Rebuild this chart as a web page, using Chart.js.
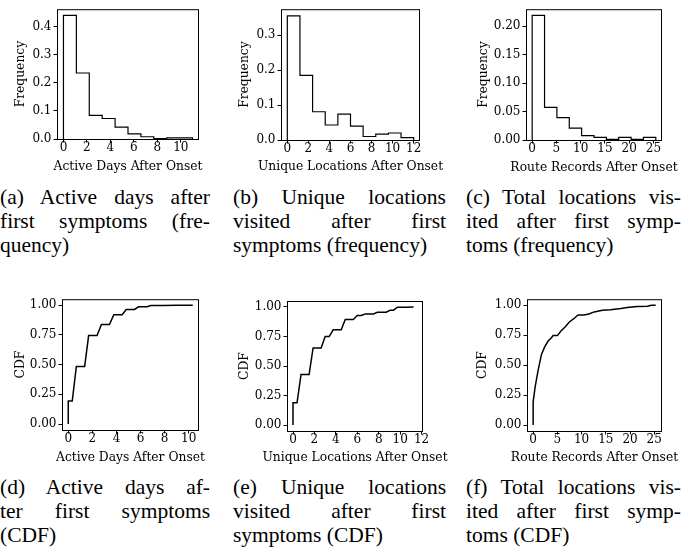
<!DOCTYPE html>
<html>
<head>
<meta charset="utf-8">
<script src="https://cdn.jsdelivr.net/npm/chart.js@4.4.0/dist/chart.umd.min.js"></script>
<style>
  body { margin: 0; width: 699px; height: 553px; background: #fff; position: relative; overflow: hidden; }
  canvas { position: absolute; }
  .cap { position: absolute; font-family: "Liberation Serif", serif; font-size: 21.5px; line-height: 24px; color: #000; }
  .cap div { text-align: justify; text-align-last: justify; }
  .cap div.last { text-align-last: left; }
</style>
</head>
<body>
<canvas id="a" width="233" height="180" style="left:0;top:0"></canvas>
<canvas id="b" width="233" height="180" style="left:233px;top:0"></canvas>
<canvas id="c" width="233" height="180" style="left:466px;top:0"></canvas>
<canvas id="d" width="233" height="180" style="left:0;top:290px"></canvas>
<canvas id="e" width="233" height="180" style="left:233px;top:290px"></canvas>
<canvas id="f" width="233" height="180" style="left:466px;top:290px"></canvas>

<div class="cap" style="left:0;top:185px;width:210px">
  <div>(a) Active days after</div><div>first symptoms (fre-</div><div class="last">quency)</div>
</div>
<div class="cap" style="left:233px;top:185px;width:213px">
  <div>(b) Unique locations</div><div>visited after first</div><div class="last">symptoms (frequency)</div>
</div>
<div class="cap" style="left:466px;top:185px;width:215px">
  <div>(c) Total locations vis-</div><div>ited after first symp-</div><div class="last">toms (frequency)</div>
</div>
<div class="cap" style="left:0;top:475px;width:210px">
  <div>(d) Active days af-</div><div>ter first symptoms</div><div class="last">(CDF)</div>
</div>
<div class="cap" style="left:233px;top:475px;width:213px">
  <div>(e) Unique locations</div><div>visited after first</div><div class="last">symptoms (CDF)</div>
</div>
<div class="cap" style="left:466px;top:475px;width:215px">
  <div>(f) Total locations vis-</div><div>ited after first symp-</div><div class="last">toms (CDF)</div>
</div>

<script>
// histogram bins (edges) and frequencies
const activeEdges = [0, 1.1, 2.2, 3.3, 4.4, 5.5, 6.6, 7.7, 8.8, 9.9, 11];
const activeFreq  = [0.44, 0.235, 0.084, 0.073, 0.042, 0.018, 0.008, 0.001, 0.004, 0.004];

const uniqueEdges = [0, 1.2, 2.4, 3.6, 4.8, 6, 7.2, 8.4, 9.6, 10.8, 12];
const uniqueFreq  = [0.356, 0.185, 0.081, 0.043, 0.074, 0.040, 0.010, 0.017, 0.020, 0.007];

const routeEdges = [0, 2.55, 5.1, 7.65, 10.2, 12.75, 15.3, 17.85, 20.4, 22.95, 25.5];
const routeFreq  = [0.2187, 0.0573, 0.0392, 0.021, 0.0076, 0.0047, 0.0012, 0.0047, 0.0012, 0.0047];

// CDF curves
const activeCdfX = [0, 0, 0.33, 0.67, 1.36, 1.69, 2.39, 2.75, 3.42, 3.78, 4.47, 4.81, 5.5, 5.83, 6.53, 6.86, 7.9, 9.0, 10.33];
const activeCdfY = [0, 0.193, 0.193, 0.485, 0.485, 0.744, 0.744, 0.837, 0.837, 0.92, 0.92, 0.964, 0.964, 0.986, 0.986, 0.997, 0.997, 1.0, 1.0];

const uniqueCdfX = [0, 0, 0.375, 0.75, 1.5, 1.875, 2.625, 3.0, 3.375, 3.75, 4.5, 4.875, 5.625, 6.0, 6.375, 6.75, 7.5, 7.875, 8.69, 9.06, 9.375, 9.75, 10.5, 11.25];
const uniqueCdfY = [0, 0.189, 0.189, 0.428, 0.428, 0.653, 0.653, 0.749, 0.749, 0.806, 0.806, 0.893, 0.893, 0.927, 0.927, 0.941, 0.941, 0.955, 0.955, 0.972, 0.972, 0.997, 0.997, 1.0];

const routeCdfX = [0, 0, 0.41, 1.03, 1.72, 2.4, 3.09, 3.78, 4.12, 5.01, 5.7, 6.59, 7.42, 8.31, 9.27, 10.5, 11.5, 12.6, 14.3, 16.0, 18.1, 19.4, 21.5, 23.6, 24.4, 25.3];
const routeCdfY = [0, 0.193, 0.318, 0.458, 0.589, 0.654, 0.701, 0.729, 0.746, 0.746, 0.782, 0.818, 0.858, 0.885, 0.919, 0.919, 0.927, 0.944, 0.958, 0.961, 0.972, 0.980, 0.989, 0.992, 1.0, 1.0];

// tick values / labels
const ticks10  = [0, 2, 4, 6, 8, 10];
const ticks12  = [0, 2, 4, 6, 8, 10, 12];
const ticks25  = [0, 5, 10, 15, 20, 25];
const freqTicksA = [0, 0.1, 0.2, 0.3, 0.4];
const freqTicksB = [0, 0.1, 0.2, 0.3];
const freqTicksC = [0, 0.05, 0.1, 0.15, 0.2];
const cdfTicks   = [0, 0.25, 0.5, 0.75, 1];

const FONT = 'DejaVu Serif';
const TICK_SIZE = 12;
const TITLE_SIZE = 12.3;

function histPoints(edges, vals) {
  const pts = [{ x: edges[0], y: 0 }];
  vals.forEach(function (v, i) {
    pts.push({ x: edges[i], y: v });
    pts.push({ x: edges[i + 1], y: v });
  });
  pts.push({ x: edges[edges.length - 1], y: 0 });
  return pts;
}

function cdfPoints(xs, ys) {
  return xs.map(function (x, i) { return { x: x, y: ys[i] }; });
}

// four spines over the data + axis titles (drawn without width squeezing)
const boxPlugin = {
  id: 'box',
  afterDatasetsDraw(chart, args, o) {
    const a = chart.chartArea, ctx = chart.ctx;
    ctx.save();
    ctx.strokeStyle = '#000';
    ctx.lineWidth = 1;
    ctx.strokeRect(a.left + 0.5, a.top + 0.5, a.right - a.left - 1, a.bottom - a.top);
    ctx.fillStyle = '#000';
    ctx.font = TITLE_SIZE + 'px "' + FONT + '"';
    ctx.textAlign = 'center';
    ctx.textBaseline = 'middle';
    ctx.fillText(o.xTitle, (a.left + a.right) / 2, o.xTitleY);
    ctx.translate(o.yTitleX, (a.top + a.bottom) / 2);
    ctx.rotate(-Math.PI / 2);
    ctx.fillText(o.yTitle, 0, 0);
    ctx.restore();
  }
};

function axis(o) {
  return {
    type: 'linear',
    min: o.min, max: o.max,
    afterBuildTicks: function (s) { s.ticks = o.ticks.map(function (v) { return { value: v }; }); },
    afterFit: o.fit,
    ticks: {
      autoSkip: false, maxRotation: 0, color: '#000', padding: o.pad,
      font: { family: FONT, size: TICK_SIZE },
      callback: function (v) { return v.toFixed(o.dec); }
    },
    grid: { display: true, drawOnChartArea: false, drawTicks: true, tickLength: 3.5, color: '#000', lineWidth: 1 },
    border: { display: false },
    title: { display: false }
  };
}

function makeChart(p) {
  const canvas = document.getElementById(p.id);
  const W = canvas.width, H = canvas.height;
  const L = p.area[0], T = p.area[1], R = p.area[2], B = p.area[3];
  new Chart(canvas, {
    type: 'line',
    data: { datasets: [{ data: p.points, borderColor: '#000', borderWidth: p.lw, pointRadius: 0, fill: false, tension: 0 }] },
    options: {
      responsive: false, animation: false, devicePixelRatio: 1,
      layout: { padding: { left: 0, top: T, right: W - R, bottom: 0 } },
      plugins: {
        legend: { display: false }, tooltip: { enabled: false },
        box: { xTitle: p.xTitle, yTitle: p.yTitle, xTitleY: p.xTitleY, yTitleX: p.yTitleX }
      },
      scales: {
        x: axis({
          min: p.xr[0], max: p.xr[1], ticks: p.xt, dec: 0, pad: -2,
          fit: function (s) { s.height = H - B; }
        }),
        y: axis({
          min: p.yr[0], max: p.yr[1], ticks: p.yt, dec: p.yDec, pad: 2,
          fit: function (s) { s.width = L; }
        })
      }
    },
    plugins: [boxPlugin]
  });
}

makeChart({ id: 'a', area: [57, 1, 199, 139], lw: 1.2,
  points: histPoints(activeEdges, activeFreq),
  xr: [-0.55, 11.55], xt: ticks10, yr: [0, 0.462], yt: freqTicksA, yDec: 1,
  xTitle: 'Active Days After Onset', yTitle: 'Frequency', xTitleY: 166.7, yTitleX: 20.7 });

makeChart({ id: 'b', area: [48, 5, 187, 140], lw: 1.2,
  points: histPoints(uniqueEdges, uniqueFreq),
  xr: [-0.6, 12.6], xt: ticks12, yr: [0, 0.375], yt: freqTicksB, yDec: 1,
  xTitle: 'Unique Locations After Onset', yTitle: 'Frequency', xTitleY: 166.7, yTitleX: 11.7 });

makeChart({ id: 'c', area: [60, 8, 196, 140], lw: 1.2,
  points: histPoints(routeEdges, routeFreq),
  xr: [-1.275, 26.775], xt: ticks25, yr: [0, 0.2296], yt: freqTicksC, yDec: 2,
  xTitle: 'Route Records After Onset', yTitle: 'Frequency', xTitleY: 167.5, yTitleX: 18.3 });

makeChart({ id: 'd', area: [62, 8, 199, 140], lw: 1.5,
  points: cdfPoints(activeCdfX, activeCdfY),
  xr: [-0.52, 10.85], xt: ticks10, yr: [-0.05, 1.05], yt: cdfTicks, yDec: 2,
  xTitle: 'Active Days After Onset', yTitle: 'CDF', xTitleY: 167.7, yTitleX: 20.7 });

makeChart({ id: 'e', area: [54, 11, 190, 141], lw: 1.5,
  points: cdfPoints(uniqueCdfX, uniqueCdfY),
  xr: [-0.56, 12.13], xt: ticks12, yr: [-0.05, 1.05], yt: cdfTicks, yDec: 2,
  xTitle: 'Unique Locations After Onset', yTitle: 'CDF', xTitleY: 167.7, yTitleX: 11.7 });

makeChart({ id: 'f', area: [61, 9, 196, 141], lw: 1.5,
  points: cdfPoints(routeCdfX, routeCdfY),
  xr: [-1.27, 26.6], xt: ticks25, yr: [-0.05, 1.05], yt: cdfTicks, yDec: 2,
  xTitle: 'Route Records After Onset', yTitle: 'CDF', xTitleY: 167.7, yTitleX: 17.3 });
</script>
</body>
</html>
